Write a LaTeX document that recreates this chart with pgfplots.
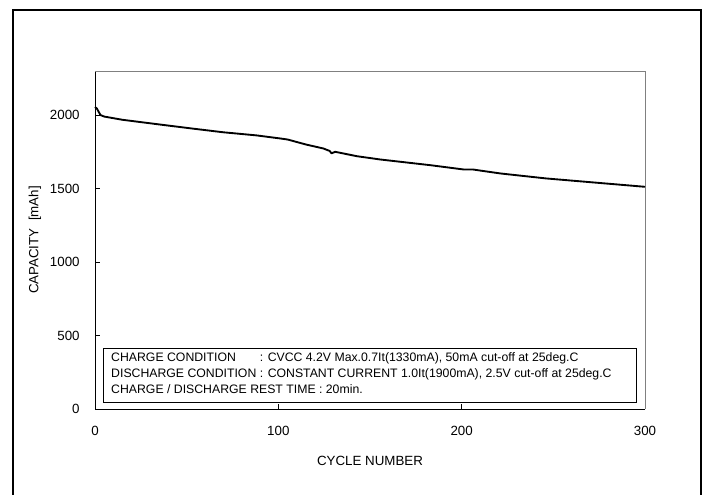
\documentclass[border=0pt]{standalone}
\usepackage{pgfplots}
\pgfplotsset{compat=1.18}
\usepackage{fontspec}
\setmainfont{Liberation Sans}

\begin{document}
\begin{tikzpicture}
\useasboundingbox (0,0) rectangle (529.5pt,370.5pt);
% outer frame, runs off the bottom of the page
\draw[line width=1.1pt] (9.75pt,-10pt) -- (9.75pt,363pt) -- (525.75pt,363pt) -- (525.75pt,-10pt);
\begin{axis}[
  at={(71.25pt,63.75pt)}, anchor=south west,
  scale only axis, width=412.5pt, height=253.5pt,
  xmin=0, xmax=300, ymin=0, ymax=2300,
  xtick={0,100,200,300}, ytick={0,500,1000,1500,2000},
  axis x line*=bottom, axis y line*=left,
  axis line style={black, line width=0.6pt},
  tick align=inside, major tick length=4pt,
  tick style={black, line width=0.6pt},
  /pgf/number format/assume math mode=true,
  /pgf/number format/1000 sep={},
  ticklabel style={font=\fontsize{10}{12}\selectfont},
  xticklabel style={yshift=-9pt},
  yticklabel style={xshift=-8pt},
  label style={font=\fontsize{10}{12}\selectfont},
  xlabel={CYCLE NUMBER}, ylabel={CAPACITY\ \ [mAh]},
  every axis x label/.style={at={(axis description cs:0.5,0)}, anchor=center, yshift=-39pt},
  every axis y label/.style={at={(axis description cs:0,0.5)}, anchor=center, xshift=-45pt, rotate=90},
  clip=false,
]
\draw[gray, line width=0.6pt] (rel axis cs:0,1) -- (rel axis cs:1,1) -- (rel axis cs:1,0);
\addplot[black, line width=1.4pt, line join=round] coordinates {
  (0,2055) (1,2045) (3,2000) (5,1990) (15,1968) (34,1938) (52,1910)
  (70,1883) (88,1862) (101,1841) (105,1834) (115,1800) (124.5,1773)
  (128,1756) (129,1740) (131,1750) (143,1720) (155.5,1698) (183,1659)
  (201,1630) (206,1630) (221,1603) (246,1569) (300,1512)
};
\draw[black, line width=0.6pt] (axis description cs:0.0145,0.0206) rectangle (axis description cs:0.985,0.18);
\node[anchor=north west, inner sep=0pt, font=\fontsize{9.2}{12}\selectfont, align=left]
  at ([xshift=6pt,yshift=-1.5pt]axis description cs:0.0145,0.18) {%
  \begin{tabular}{@{}l@{ }l@{}}
  CHARGE CONDITION & : CVCC 4.2V Max.0.7It(1330mA), 50mA cut-off at 25deg.C\\
  DISCHARGE CONDITION & : CONSTANT CURRENT 1.0It(1900mA), 2.5V cut-off at 25deg.C\\
  \multicolumn{2}{@{}l@{}}{CHARGE / DISCHARGE REST TIME : 20min.}
  \end{tabular}};
\end{axis}
\end{tikzpicture}
\end{document}
